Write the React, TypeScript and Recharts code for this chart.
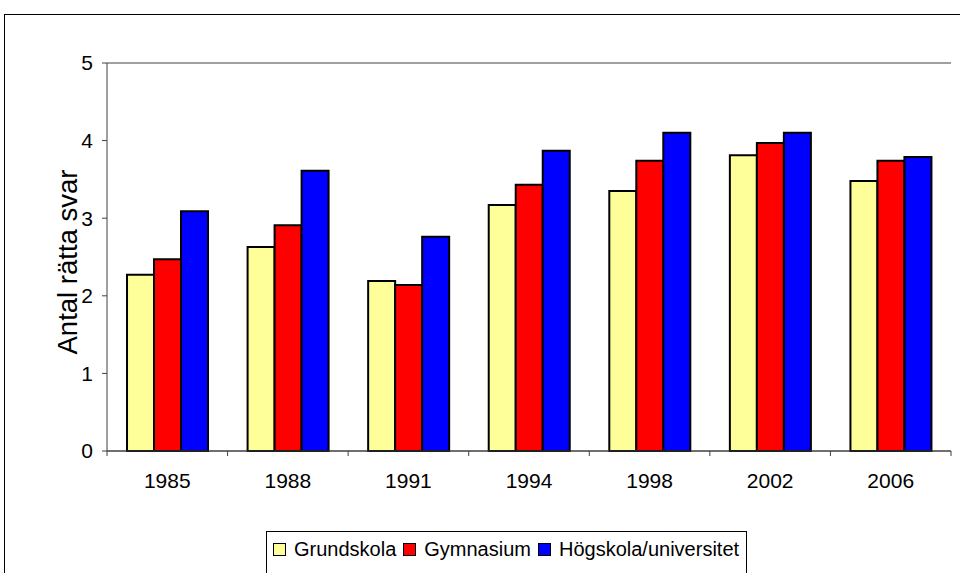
import React from 'react';
import { BarChart, Bar, XAxis, YAxis, CartesianGrid, ReferenceLine } from 'recharts';

const years = ['1985', '1988', '1991', '1994', '1998', '2002', '2006'];
const grundskola = [2.27, 2.63, 2.19, 3.17, 3.35, 3.81, 3.48];
const gymnasium = [2.47, 2.91, 2.14, 3.43, 3.74, 3.97, 3.74];
const hogskola = [3.09, 3.61, 2.76, 3.87, 4.1, 4.1, 3.79];
const yTicks = [0, 1, 2, 3, 4, 5];
const seriesNames = ['Grundskola', 'Gymnasium', 'Högskola/universitet'];
const seriesColors = ['#FFFF99', '#FF0000', '#0000FF'];

const data = years.map((y, i) => ({
  year: y,
  s0: grundskola[i],
  s1: gymnasium[i],
  s2: hogskola[i],
}));

const FONT = '"Liberation Sans", Arial, sans-serif';

const XTick = (props: any) => {
  const { x, y, payload, index, width } = props;
  const band = width / years.length;
  const left = x - band / 2;
  const right = x + band / 2;
  return (
    <g>
      <line x1={left} x2={left} y1={y} y2={y + 5} stroke="#404040" strokeWidth={1} />
      {index === years.length - 1 && (
        <line x1={right} x2={right} y1={y} y2={y + 5} stroke="#404040" strokeWidth={1} />
      )}
      <text x={x} y={y + 22} dy="0.71em" textAnchor="middle" fontSize={21} fill="#000" fontFamily={FONT}>
        {payload.value}
      </text>
    </g>
  );
};

const YLabel = (props: any) => {
  const vb = props.viewBox;
  const cx = vb.x + 67;
  const cy = vb.y + vb.height / 2 + 5;
  return (
    <text
      x={cx}
      y={cy}
      transform={`rotate(-90 ${cx} ${cy})`}
      textAnchor="middle"
      dominantBaseline="central"
      fontSize={27.5}
      fill="#000"
      fontFamily={FONT}
    >
      Antal rätta svar
    </text>
  );
};

export default function App() {
  return (
    <div style={{ position: 'absolute', left: 0, top: 0, width: 960, height: 573, overflow: 'hidden', background: '#fff' }}>
      <div style={{ position: 'absolute', left: 4, top: 14, width: 1000, height: 1000, border: '1px solid #000', boxSizing: 'border-box' }} />
      <div style={{ position: 'absolute', left: 0, top: 0 }}>
        <BarChart
          width={960}
          height={573}
          data={data}
          margin={{ top: 63, right: 9, left: 0, bottom: 92 }}
          barCategoryGap="16.6%"
          barGap={0}
        >
          <CartesianGrid vertical={false} stroke="#404040" strokeWidth={1} />
          <XAxis
            dataKey="year"
            xAxisId="cat"
            height={30}
            tickSize={0}
            tickMargin={0}
            tickLine={false}
            axisLine={{ stroke: '#404040', strokeWidth: 1 }}
            tick={<XTick />}
            interval={0}
          />
          <YAxis
            yAxisId="l"
            domain={[0, 5]}
            ticks={yTicks}
            width={107}
            tickSize={5}
            tickMargin={9}
            tickLine={{ stroke: '#404040' }}
            axisLine={{ stroke: '#404040', strokeWidth: 1 }}
            tick={{ fontSize: 21, fill: '#000', fontFamily: FONT }}
            label={<YLabel />}
          />
          <YAxis
            yAxisId="r"
            orientation="right"
            domain={[0, 5]}
            width={0}
            tick={false}
            tickLine={false}
            axisLine={{ stroke: '#A0A0A0', strokeWidth: 2 }}
          />
          <ReferenceLine xAxisId="cat" yAxisId="l" y={5} stroke="#A0A0A0" strokeWidth={2} />
          {['s0', 's1', 's2'].map((k, i) => (
            <Bar
              key={k}
              dataKey={k}
              name={seriesNames[i]}
              xAxisId="cat"
              yAxisId="l"
              fill={seriesColors[i]}
              stroke="#000000"
              strokeWidth={2}
              isAnimationActive={false}
            />
          ))}
        </BarChart>
      </div>
      <div
        style={{
          position: 'absolute',
          left: 266,
          top: 531,
          width: 481,
          height: 80,
          border: '1px solid #000',
          boxSizing: 'border-box',
          background: '#fff',
        }}
      >
        <div style={{ position: 'absolute', top: 6, left: 6, display: 'flex', alignItems: 'center', fontFamily: FONT, fontSize: 20, color: '#000', whiteSpace: 'nowrap' }}>
          {seriesNames.map((n, i) => (
            <div key={n} style={{ display: 'flex', alignItems: 'center', marginRight: 7 }}>
              <span style={{ display: 'inline-block', width: 11, height: 11, background: seriesColors[i], border: '1px solid #000', marginRight: 8 }} />
              <span>{n}</span>
            </div>
          ))}
        </div>
      </div>
    </div>
  );
}
